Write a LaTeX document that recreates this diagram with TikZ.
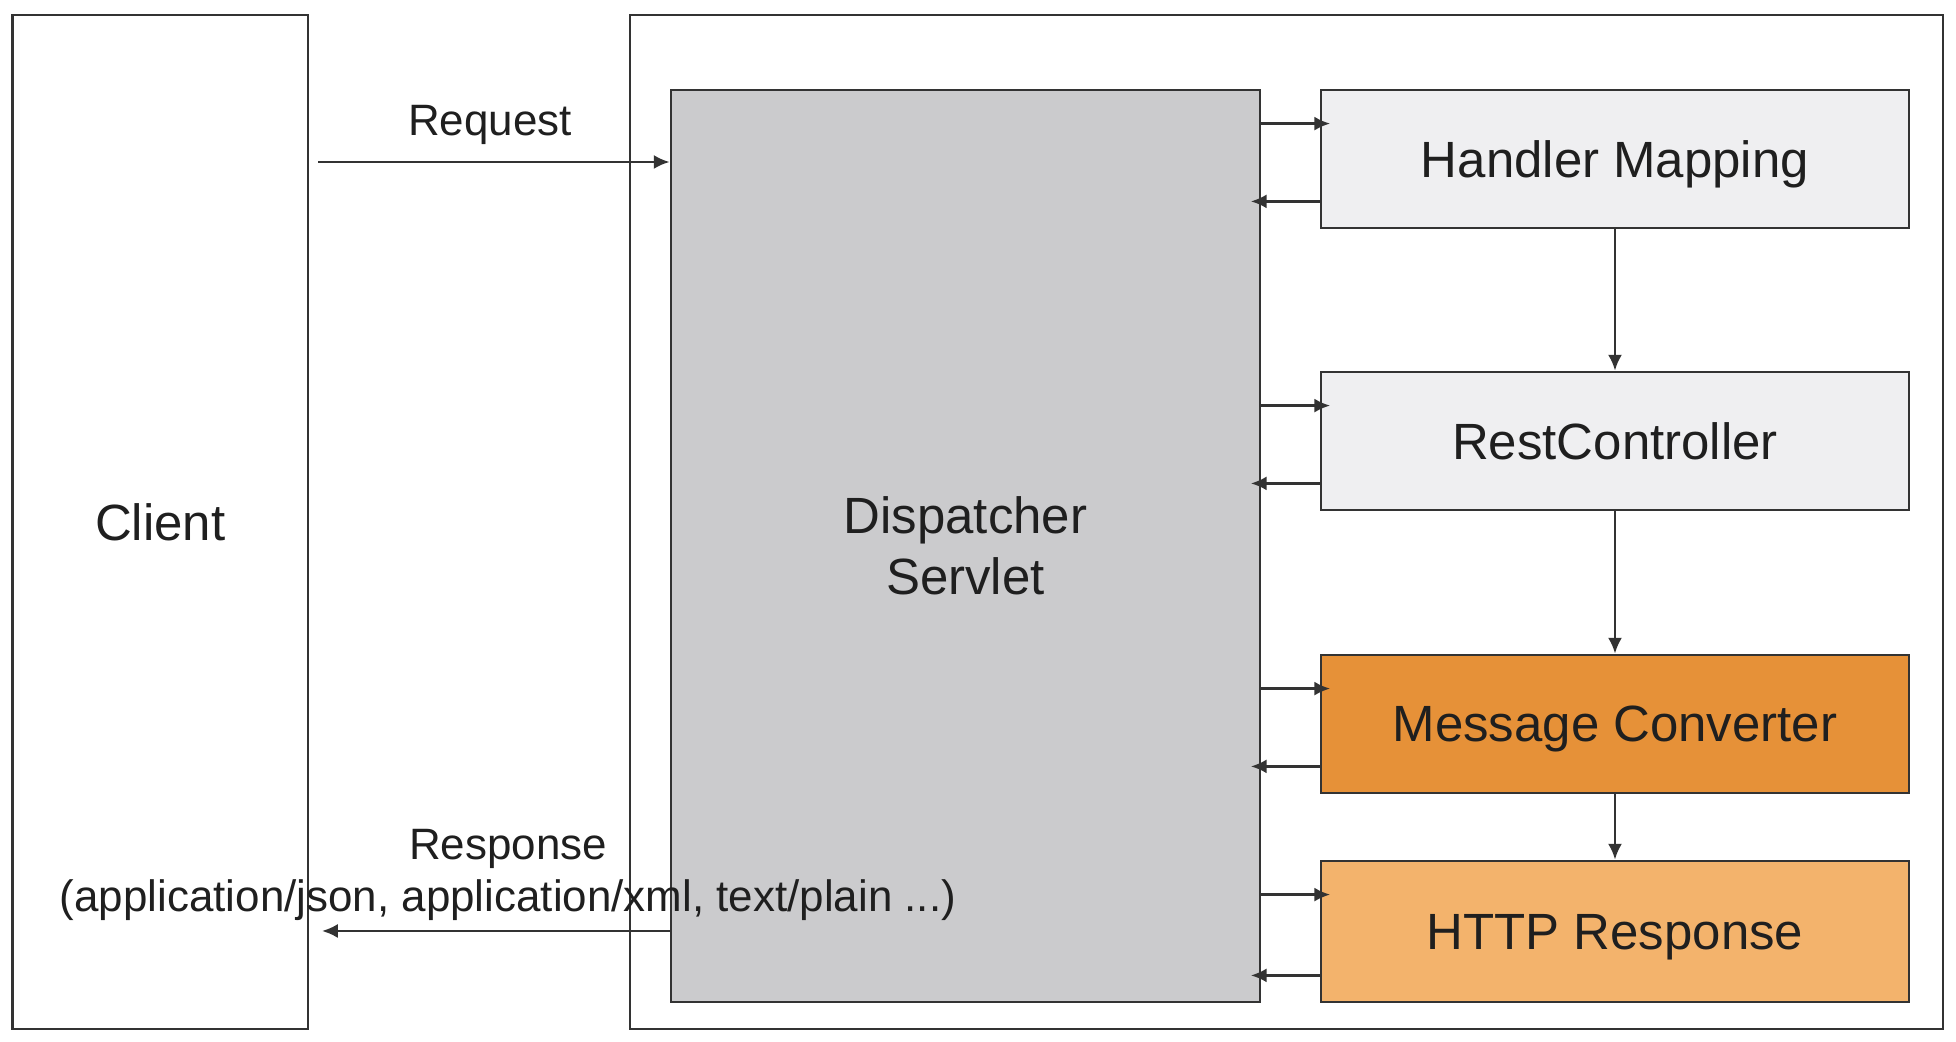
\documentclass[tikz,border=0pt]{standalone}
\usepackage{fontspec}
\setmainfont{Liberation Sans}
\usetikzlibrary{arrows.meta}
\usetikzlibrary{calc}

\definecolor{servletgray}{HTML}{CBCBCD}
\definecolor{boxgray}{HTML}{EFEFF1}
\definecolor{convorange}{HTML}{E69138}
\definecolor{respyellow}{HTML}{F3B36C}
\definecolor{linegray}{HTML}{333333}

\begin{document}
\begin{tikzpicture}[
    box/.style={draw=linegray, line width=0.8pt, inner sep=0pt, text=black!88, font=\fontsize{14.5}{17.5}\selectfont},
    part/.style={box, minimum width=5.88cm, minimum height=1.38cm, text depth=0pt},
    flow/.style={draw=linegray, line width=0.7pt, -{Latex[length=4.5pt,width=4pt]}},
    lbl/.style={text=black!88, font=\fontsize{12.5}{15}\selectfont, align=center}]
          \useasboundingbox (0,0) rectangle (19.56,10.42);
          \node[box, minimum width=2.955cm, minimum height=10.14cm] (client) at (1.6025, 5.2) {Client};
          \node[box, minimum width=13.13cm, minimum height=10.14cm] (server) at (12.865, 5.2) {};
          \node[box, fill=servletgray, minimum width=5.89cm, minimum height=9.12cm, align=center] (dispatcher) at (9.655, 4.96) {Dispatcher\\Servlet};
          %
          \node[part, fill=boxgray] (mapping) at (16.15, 8.83) {Handler Mapping};
          \node[part, fill=boxgray] (controller) at (16.15, 6.01) {RestController};
          \node[part, fill=convorange] (converter) at (16.15, 3.18) {Message Converter};
          \node[part, fill=respyellow, minimum height=1.41cm] (response) at (16.15, 1.105) {HTTP Response};
          %
          \foreach \b in {mapping, controller, converter, response} {
            \coordinate (in) at ($(\b.north west)+(0,-0.35)$);
            \coordinate (out) at ($(\b.south west)+(0,0.28)$);
            \draw[flow, shorten >=-3pt] (dispatcher.east |- in) -- (in);
            \draw[flow, shorten >=-3pt] (out) -- (dispatcher.east |- out);
          }
          \draw[flow] (mapping) -- (controller);
          \draw[flow] (controller) -- (converter);
          \draw[flow] (converter) -- (response);
          %
          \coordinate (reqstart) at (3.18, 8.80);
          \draw[flow] (reqstart) -- (dispatcher.west |- reqstart);
          \coordinate (respend) at (3.22, 1.11);
          \draw[flow] (dispatcher.west |- respend) -- (respend);
          \node[lbl] (reqlabel) at (4.90, 9.17) {Request};
          \node[lbl] (resplabel) at (5.08, 1.67) {Response\\(application/json, application/xml, text/plain ...)};
        \end{tikzpicture}
\end{document}
